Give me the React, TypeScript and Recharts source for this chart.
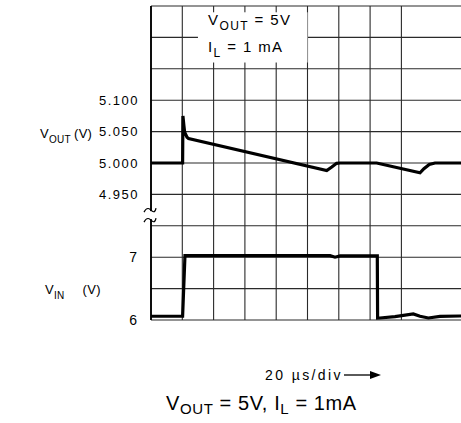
import React from 'react';
import {
  LineChart,
  Line,
  XAxis,
  YAxis,
  CartesianGrid,
  ReferenceArea,
  ReferenceDot,
} from 'recharts';

// time axis, 20 us per division
const TIME_TICKS = [0, 20, 40, 60, 80, 100, 120, 140, 160, 180, 200];

// VOUT scale: 50 mV per division
const VOUT_TICKS = [4.75, 4.8, 4.85, 4.9, 4.95, 5.0, 5.05, 5.1, 5.15, 5.2, 5.25];
const VOUT_LABELS = ['4.950', '5.000', '5.050', '5.100'];

// VIN scale: 0.5 V per division
const VIN_TICKS = [6, 7];

// output voltage trace
const voutTime = [0, 20.2, 20.4, 21.0, 21.5, 23, 24, 112.3, 115.5, 118.6, 120.8, 144.2, 171.9, 174.4, 177.8, 181.5, 200];
const voutVolts = [5.0, 5.0, 5.075, 5.06, 5.049, 5.041, 5.039, 4.988, 4.9936, 4.9995, 5.0, 5.0, 4.9845, 4.991, 4.9978, 5.0, 5.0];

// input voltage trace
const vinTime = [0, 20.2, 21.7, 114.4, 117.6, 120.8, 144.6, 144.8, 146.3, 155.9, 167.6, 171.9, 177.2, 184.7, 197.4, 200];
const vinVolts = [6.06, 6.06, 7.025, 7.025, 7.0, 7.02, 7.02, 6.03, 6.032, 6.053, 6.096, 6.06, 6.032, 6.058, 6.064, 6.064];

const BREAK_AT = 4.917;

const outRows = voutTime.map((t, i) => ({ t, v: voutVolts[i] }));
const inRows = vinTime.map((t, i) => ({ t, v: vinVolts[i] }));

const FONT = 'Arial, "Liberation Sans", sans-serif';

function AxisTitles(props: any) {
  const { x, width } = props.viewBox;
  const left = x + width - 110;
  return (
    <g fontFamily={FONT} fontSize={13} fill="#000" letterSpacing={0.3}>
      <text x={left} y={138}>
        V<tspan dy={5} fontSize={10}>OUT</tspan>
        <tspan dy={-5} dx={3}>(V)</tspan>
      </text>
      <text x={left + 5} y={294}>
        V<tspan dy={5} fontSize={10}>IN</tspan>
        <tspan dy={-5} dx={18}>(V)</tspan>
      </text>
    </g>
  );
}

function NoteBox(props: any) {
  const { x, y, width, height } = props;
  const cx = x + width / 2;
  return (
    <g>
      <rect x={x} y={y} width={width} height={height} fill="#fff" />
      <g fontFamily={FONT} fontSize={15} fill="#000" letterSpacing={1.4} textAnchor="middle">
        <text x={cx - 3} y={y + 13}>
          V<tspan dy={5} fontSize={12}>OUT</tspan>
          <tspan dy={-5}>{'  =  5V'}</tspan>
        </text>
        <text x={cx - 7} y={y + 40}>
          I<tspan dy={5} fontSize={12}>L</tspan>
          <tspan dy={-5}>{' = 1 mA'}</tspan>
        </text>
      </g>
    </g>
  );
}

function BreakMark(props: any) {
  const { cx, cy } = props;
  const s = (dy: number) =>
    `M${cx - 7},${cy + dy + 2} C${cx - 4},${cy + dy - 4} ${cx - 1},${cy + dy - 1} ${cx},${cy + dy} S${cx + 4},${cy + dy + 4} ${cx + 5},${cy + dy - 2}`;
  return (
    <g>
      <rect x={cx - 2} y={cy - 4} width={4} height={8} fill="#fff" />
      <path d={s(-5)} fill="none" stroke="#000" strokeWidth={1.2} />
      <path d={s(5)} fill="none" stroke="#000" strokeWidth={1.2} />
    </g>
  );
}

export default function App() {
  return (
    <div
      style={{
        position: 'absolute',
        left: 0,
        top: 0,
        width: 461,
        height: 423,
        overflow: 'hidden',
        background: '#fff',
      }}
    >
      <LineChart width={470} height={340} margin={{ top: 6, right: 6, bottom: 20, left: 0 }}>
        <CartesianGrid yAxisId="out" stroke="#2a2a2a" strokeWidth={1.1} />
        <XAxis
          type="number"
          dataKey="t"
          domain={[0, 200]}
          ticks={TIME_TICKS}
          hide
          allowDataOverflow
        />
        <YAxis
          yAxisId="in"
          type="number"
          domain={[6, 11]}
          ticks={VIN_TICKS}
          width={1}
          allowDataOverflow
          axisLine={{ stroke: '#000', strokeWidth: 1.8 }}
          tickLine={false}
          tickSize={6}
          tickMargin={8}
          tick={{ fontSize: 14, fill: '#000', fontFamily: FONT }}
        />
        <YAxis
          yAxisId="out"
          type="number"
          domain={[4.75, 5.25]}
          ticks={VOUT_TICKS}
          width={150}
          allowDataOverflow
          axisLine={false}
          tickLine={false}
          tickSize={6}
          tickMargin={5}
          tick={{ fontSize: 13, fill: '#000', fontFamily: FONT, letterSpacing: 1.5 }}
          tickFormatter={(v: number) => (VOUT_LABELS.includes(v.toFixed(3)) ? v.toFixed(3) : '')}
          label={{ content: AxisTitles }}
        />
        <ReferenceArea
          yAxisId="out"
          x1={30}
          x2={100}
          y1={5.16}
          y2={5.24}
          shape={NoteBox}
          ifOverflow="visible"
        />
        <ReferenceDot yAxisId="out" x={0} y={BREAK_AT} shape={BreakMark} ifOverflow="visible" />
        <Line
          yAxisId="out"
          data={outRows}
          dataKey="v"
          type="linear"
          stroke="#000"
          strokeWidth={3.2}
          dot={false}
          isAnimationActive={false}
        />
        <Line
          yAxisId="in"
          data={inRows}
          dataKey="v"
          type="linear"
          stroke="#000"
          strokeWidth={3.2}
          dot={false}
          isAnimationActive={false}
        />
      </LineChart>
      <svg
        width={461}
        height={83}
        style={{ position: 'absolute', left: 0, top: 340 }}
      >
        <text x={265} y={40} fontFamily={FONT} fontSize={14} letterSpacing={2.4} fill="#000">
          20 µs/div
        </text>
        <line x1={344} y1={35} x2={372} y2={35} stroke="#000" strokeWidth={1.3} />
        <path d="M370,31 L381,35 L370,39 Z" fill="#000" />
        <text x={166} y={70} fontFamily={FONT} fontSize={20} letterSpacing={0.6} fill="#000">
          V<tspan dy={4} fontSize={15}>OUT</tspan>
          <tspan dy={-4}>{' = 5V, I'}</tspan>
          <tspan dy={4} fontSize={15}>L</tspan>
          <tspan dy={-4}>{' = 1mA'}</tspan>
        </text>
      </svg>
    </div>
  );
}
